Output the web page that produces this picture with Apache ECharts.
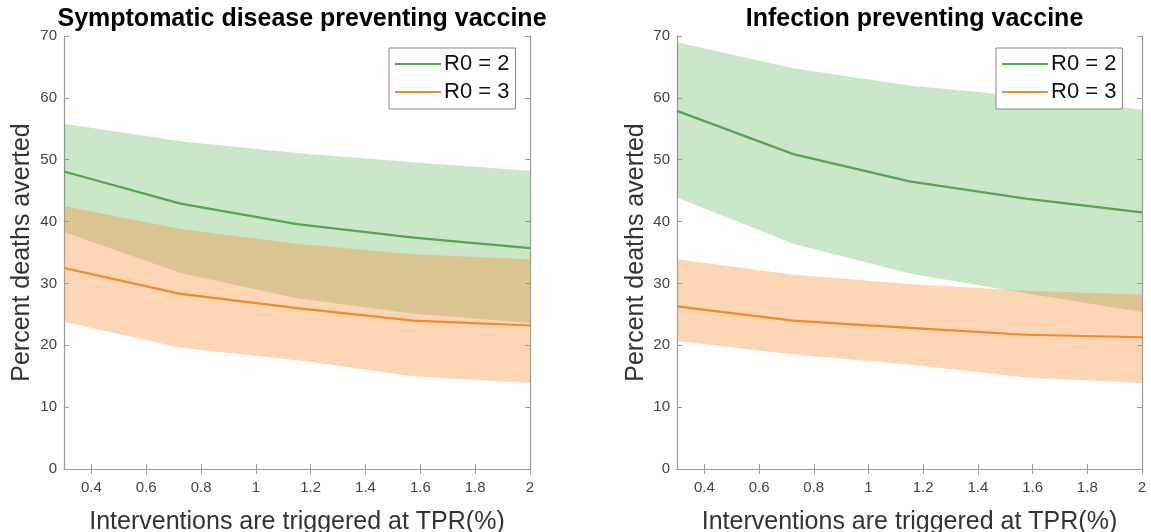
<!DOCTYPE html>
<html>
<head>
<meta charset="utf-8">
<script src="https://cdn.jsdelivr.net/npm/echarts@6/dist/echarts.min.js"></script>
<style>
html,body{margin:0;padding:0;background:#fff;}
#c{width:1151px;height:532px;}
</style>
</head>
<body>
<div id="c"></div>
<script>
// ---- data ----
const tpr = [0.3, 0.725, 1.15, 1.575, 2.0];
const xTickValues = [0.4, 0.6, 0.8, 1.0, 1.2, 1.4, 1.6, 1.8, 2.0];
const xTickLabels = ['0.4', '0.6', '0.8', '1', '1.2', '1.4', '1.6', '1.8', '2'];
const seriesNames = ['R0 = 2', 'R0 = 3'];
const panelTitles = ['Symptomatic disease preventing vaccine', 'Infection preventing vaccine'];

// Symptomatic disease preventing vaccine
const symR2Mean  = [48.1, 42.9, 39.6, 37.4, 35.7];
const symR2Upper = [55.8, 53.0, 51.1, 49.6, 48.2];
const symR2Lower = [38.3, 31.7, 27.6, 25.1, 23.6];
const symR3Mean  = [32.5, 28.3, 26.0, 24.0, 23.2];
const symR3Upper = [42.5, 38.8, 36.4, 34.7, 33.9];
const symR3Lower = [23.8, 19.6, 17.6, 15.0, 13.9];

// Infection preventing vaccine
const infR2Mean  = [57.9, 50.9, 46.5, 43.7, 41.5];
const infR2Upper = [69.0, 64.8, 62.0, 60.2, 58.1];
const infR2Lower = [43.9, 36.4, 31.6, 28.4, 25.4];
const infR3Mean  = [26.3, 24.0, 22.8, 21.7, 21.3];
const infR3Upper = [33.9, 31.4, 29.9, 28.8, 28.2];
const infR3Lower = [20.7, 18.5, 16.9, 14.8, 13.9];

// ---- styling ----
const FONT = 'Liberation Sans, Arial, sans-serif';
const GREEN = '#52a64c';
const ORANGE = '#ee8a2b';
const GREEN_FILL = 'rgba(82,176,76,0.30)';
const ORANGE_FILL = 'rgba(248,140,50,0.36)';
const AXIS_COLOR = '#9a9a9a';
const LABEL_COLOR = '#444';

const panels = [
  {left: 64, width: 466, nameGap: 29,
   r2: [symR2Mean, symR2Upper, symR2Lower], r3: [symR3Mean, symR3Upper, symR3Lower],
   legend: {left: 389, top: 48}},
  {left: 677, width: 465, nameGap: 28,
   r2: [infR2Mean, infR2Upper, infR2Lower], r3: [infR3Mean, infR3Upper, infR3Lower],
   legend: {left: 996, top: 48}}
];

const grid = [], xAxis = [], yAxis = [], series = [], title = [], legend = [];

function bandSeries(gi, upper, lower, fill, z) {
  return {
    type: 'custom', xAxisIndex: gi * 2, yAxisIndex: gi * 2, silent: true, z: z,
    data: [[tpr[0], lower[0]]],
    renderItem: function (params, api) {
      const pts = [];
      for (let i = 0; i < tpr.length; i++) pts.push(api.coord([tpr[i], upper[i]]));
      for (let i = tpr.length - 1; i >= 0; i--) pts.push(api.coord([tpr[i], lower[i]]));
      return {type: 'polygon', shape: {points: pts}, style: {fill: fill, stroke: null}};
    }
  };
}

panels.forEach((p, gi) => {
  grid.push({left: p.left, top: 36, width: p.width, height: 433, containLabel: false, outerBoundsMode: 'none'});
  const tickCommon = {show: true, inside: true, length: 5, lineStyle: {color: AXIS_COLOR}};
  xAxis.push({
    gridIndex: gi, type: 'value', min: 0.3, max: 2, position: 'bottom',
    name: 'Interventions are triggered at TPR(%)', nameLocation: 'middle', nameGap: 41,
    nameTextStyle: {fontFamily: FONT, fontSize: 25, color: '#333'},
    axisLine: {show: true, lineStyle: {color: AXIS_COLOR, width: 1.2}},
    axisTick: Object.assign({customValues: xTickValues}, tickCommon),
    axisLabel: {customValues: xTickValues, formatter: v => xTickLabels[xTickValues.findIndex(t => Math.abs(t - v) < 1e-6)] ?? '',
      fontFamily: FONT, fontSize: 15, color: LABEL_COLOR, margin: 11},
    splitLine: {show: false}
  });
  xAxis.push({
    gridIndex: gi, type: 'value', min: 0.3, max: 2, position: 'top',
    axisLine: {show: true, lineStyle: {color: AXIS_COLOR, width: 1.2}},
    axisTick: Object.assign({customValues: xTickValues}, tickCommon),
    axisLabel: {show: false}, splitLine: {show: false}
  });
  yAxis.push({
    gridIndex: gi, type: 'value', min: 0, max: 70, interval: 10, position: 'left',
    name: 'Percent deaths averted', nameLocation: 'middle', nameGap: p.nameGap,
    nameTextStyle: {fontFamily: FONT, fontSize: 25, color: '#333'},
    axisLine: {show: true, lineStyle: {color: AXIS_COLOR, width: 1.2}},
    axisTick: tickCommon,
    axisLabel: {fontFamily: FONT, fontSize: 15, color: LABEL_COLOR, margin: 7},
    splitLine: {show: false}
  });
  yAxis.push({
    gridIndex: gi, type: 'value', min: 0, max: 70, interval: 10, position: 'right',
    axisLine: {show: true, lineStyle: {color: AXIS_COLOR, width: 1.2}},
    axisTick: tickCommon, axisLabel: {show: false}, splitLine: {show: false}
  });
  title.push({
    text: panelTitles[gi], left: p.left + p.width / 2, textAlign: 'center', top: 2,
    textStyle: {fontFamily: FONT, fontSize: 25, fontWeight: 'bold', color: '#000'}
  });
  series.push(bandSeries(gi, p.r2[1], p.r2[2], GREEN_FILL, 1));
  series.push(bandSeries(gi, p.r3[1], p.r3[2], ORANGE_FILL, 2));
  series.push({
    name: seriesNames[0], type: 'line', xAxisIndex: gi * 2, yAxisIndex: gi * 2, z: 5,
    data: tpr.map((x, i) => [x, p.r2[0][i]]), symbol: 'none', silent: true,
    lineStyle: {color: GREEN, width: 2.2}, itemStyle: {color: GREEN}
  });
  series.push({
    name: seriesNames[1], type: 'line', xAxisIndex: gi * 2, yAxisIndex: gi * 2, z: 5,
    data: tpr.map((x, i) => [x, p.r3[0][i]]), symbol: 'none', silent: true,
    lineStyle: {color: ORANGE, width: 2.2}, itemStyle: {color: ORANGE}
  });
  legend.push({
    data: seriesNames, orient: 'vertical', left: p.legend.left, top: p.legend.top,
    backgroundColor: '#fff', borderColor: '#888', borderWidth: 1, borderRadius: 0,
    padding: [5, 6, 6, 6], itemGap: 6, itemWidth: 46, itemHeight: 2, icon: 'rect',
    selectedMode: false,
    textStyle: {fontFamily: FONT, fontSize: 22, color: '#111', padding: [0, 0, 0, -2]}
  });
});

const chart = echarts.init(document.getElementById('c'), null, {renderer: 'canvas'});
chart.setOption({
  backgroundColor: '#fff', animation: false,
  title, legend, grid, xAxis, yAxis, series
});
</script>
</body>
</html>
